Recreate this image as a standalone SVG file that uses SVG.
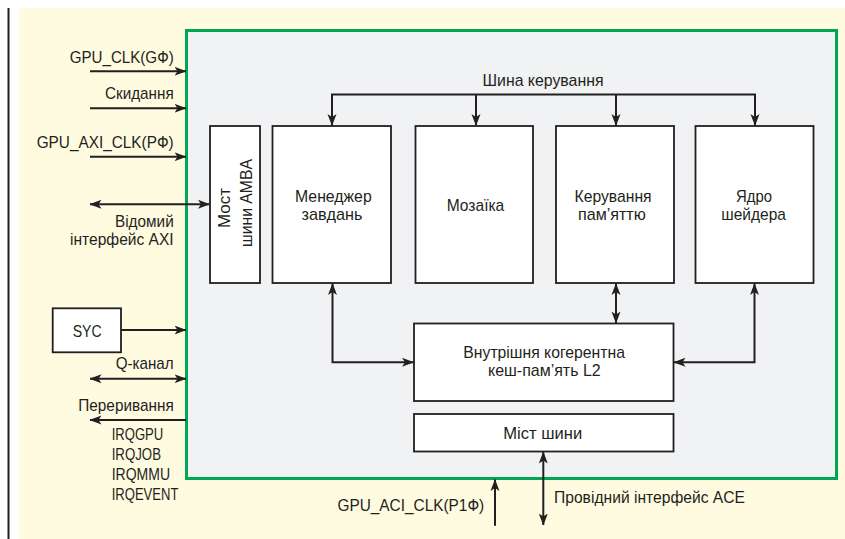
<svg xmlns="http://www.w3.org/2000/svg" width="845" height="539" viewBox="0 0 845 539">
<defs>
<style>
.t{font-family:"Liberation Sans",Arial,sans-serif;font-size:17px;fill:#231f20}
.box{fill:#ffffff;stroke:#231f20;stroke-width:1.8}
.c{fill:none;stroke:#231f20;stroke-width:2}
.a{marker-end:url(#ah)}
.d{marker-start:url(#ah);marker-end:url(#ah)}
</style>
<marker id="ah" viewBox="0 0 12 10" refX="11.5" refY="5" markerWidth="12" markerHeight="10" markerUnits="userSpaceOnUse" orient="auto-start-reverse">
<path d="M0,0.5 L12,5 L0,9.5 L3,5 Z" fill="#231f20"/>
</marker>
</defs>
<rect x="0" y="0" width="845" height="539" fill="#ffffff"/>
<rect x="19" y="8" width="826" height="531" fill="#fffbe1"/>
<line x1="8.5" y1="8" x2="8.5" y2="539" stroke="#231f20" stroke-width="2"/>
<g id="gpu">
<rect x="186.5" y="30.5" width="650" height="448" fill="#f1f2f4" stroke="#00a651" stroke-width="3"/>
</g>
<g id="amba">
<rect class="box" x="210" y="126" width="50" height="157"/>
<text class="t" transform="translate(230,208) rotate(-90)" text-anchor="middle" textLength="40" lengthAdjust="spacingAndGlyphs">Мост</text>
<text class="t" transform="translate(252,203) rotate(-90)" text-anchor="middle" textLength="88" lengthAdjust="spacingAndGlyphs">шини AMBA</text>
</g>
<g id="manager">
<rect class="box" x="272.5" y="126" width="118.5" height="157"/>
<text class="t" x="295" y="201.7" textLength="76.7" lengthAdjust="spacingAndGlyphs">Менеджер</text>
<text class="t" x="301.5" y="219.5" textLength="61" lengthAdjust="spacingAndGlyphs">завдань</text>
</g>
<g id="mosaic">
<rect class="box" x="415.5" y="126" width="117.5" height="157"/>
<text class="t" x="446.7" y="210.7" textLength="57.6" lengthAdjust="spacingAndGlyphs">Мозаїка</text>
</g>
<g id="memory">
<rect class="box" x="556" y="126" width="118" height="157"/>
<text class="t" x="574.6" y="201.7" textLength="77" lengthAdjust="spacingAndGlyphs">Керування</text>
<text class="t" x="578" y="219.5" textLength="67.8" lengthAdjust="spacingAndGlyphs">пам’яттю</text>
</g>
<g id="shader">
<rect class="box" x="695.5" y="126" width="118" height="157"/>
<text class="t" x="736" y="201.7" textLength="36" lengthAdjust="spacingAndGlyphs">Ядро</text>
<text class="t" x="721.3" y="219.5" textLength="64.6" lengthAdjust="spacingAndGlyphs">шейдера</text>
</g>
<g id="l2">
<rect class="box" x="414" y="323.5" width="259.5" height="77.5"/>
<text class="t" x="463.3" y="357.7" textLength="161.7" lengthAdjust="spacingAndGlyphs">Внутрішня когерентна</text>
<text class="t" x="488" y="375.7" textLength="112.7" lengthAdjust="spacingAndGlyphs">кеш-пам’ять L2</text>
</g>
<g id="busbridge">
<rect class="box" x="414" y="414" width="259.5" height="37.5"/>
<text class="t" x="503.3" y="439" textLength="79" lengthAdjust="spacingAndGlyphs">Міст шини</text>
</g>
<g id="syc">
<rect class="box" x="52.7" y="308.3" width="68.3" height="44"/>
<text class="t" x="72.7" y="336.7" textLength="29" lengthAdjust="spacingAndGlyphs">SYC</text>
</g>
<g id="connectors">
<line class="c a" x1="90" y1="71.3" x2="186" y2="71.3"/>
<line class="c a" x1="90" y1="108.3" x2="186" y2="108.3"/>
<line class="c a" x1="90" y1="156.7" x2="186" y2="156.7"/>
<line class="c d" x1="90" y1="204.3" x2="209.5" y2="204.3"/>
<line class="c a" x1="121" y1="330" x2="186" y2="330"/>
<line class="c d" x1="90" y1="378.7" x2="186" y2="378.7"/>
<line class="c a" x1="186" y1="420" x2="90" y2="420"/>
<path class="c" d="M332,125.5 V94.5 H755 V125.5"/>
<line class="c a" x1="332" y1="100" x2="332" y2="125.5"/>
<line class="c a" x1="476" y1="94.5" x2="476" y2="125.5"/>
<line class="c a" x1="616" y1="94.5" x2="616" y2="125.5"/>
<line class="c a" x1="755" y1="100" x2="755" y2="125.5"/>
<path class="c d" d="M332.5,283.5 V362.3 H413.5"/>
<line class="c d" x1="616" y1="283.5" x2="616" y2="323"/>
<path class="c d" d="M754.5,283.5 V362.3 H674"/>
<line class="c d" x1="543.3" y1="452" x2="543.3" y2="525"/>
<line class="c a" x1="495" y1="525.7" x2="495" y2="479.5"/>
</g>
<g id="labels">
<text class="t" x="69.7" y="63.3" textLength="104" lengthAdjust="spacingAndGlyphs">GPU_CLK(GФ)</text>
<text class="t" x="105" y="99" textLength="68.7" lengthAdjust="spacingAndGlyphs">Скидання</text>
<text class="t" x="36.7" y="148.3" textLength="137" lengthAdjust="spacingAndGlyphs">GPU_AXI_CLK(PФ)</text>
<text class="t" x="115" y="226.7" textLength="58.7" lengthAdjust="spacingAndGlyphs">Відомий</text>
<text class="t" x="70" y="245" textLength="103.7" lengthAdjust="spacingAndGlyphs">інтерфейс AXI</text>
<text class="t" x="115.7" y="369" textLength="58" lengthAdjust="spacingAndGlyphs">Q-канал</text>
<text class="t" x="78.3" y="410.7" textLength="95.4" lengthAdjust="spacingAndGlyphs">Переривання</text>
<text class="t" x="111.7" y="440" textLength="51.6" lengthAdjust="spacingAndGlyphs">IRQGPU</text>
<text class="t" x="111.7" y="460" textLength="49.3" lengthAdjust="spacingAndGlyphs">IRQJOB</text>
<text class="t" x="111.7" y="480" textLength="58.3" lengthAdjust="spacingAndGlyphs">IRQMMU</text>
<text class="t" x="111.7" y="500" textLength="66.7" lengthAdjust="spacingAndGlyphs">IRQEVENT</text>
<text class="t" x="482.5" y="86" textLength="121" lengthAdjust="spacingAndGlyphs">Шина керування</text>
<text class="t" x="337.5" y="511" textLength="146.7" lengthAdjust="spacingAndGlyphs">GPU_ACI_CLK(P1Ф)</text>
<text class="t" x="554" y="503" textLength="191" lengthAdjust="spacingAndGlyphs">Провідний інтерфейс ACE</text>
</g>
</svg>
